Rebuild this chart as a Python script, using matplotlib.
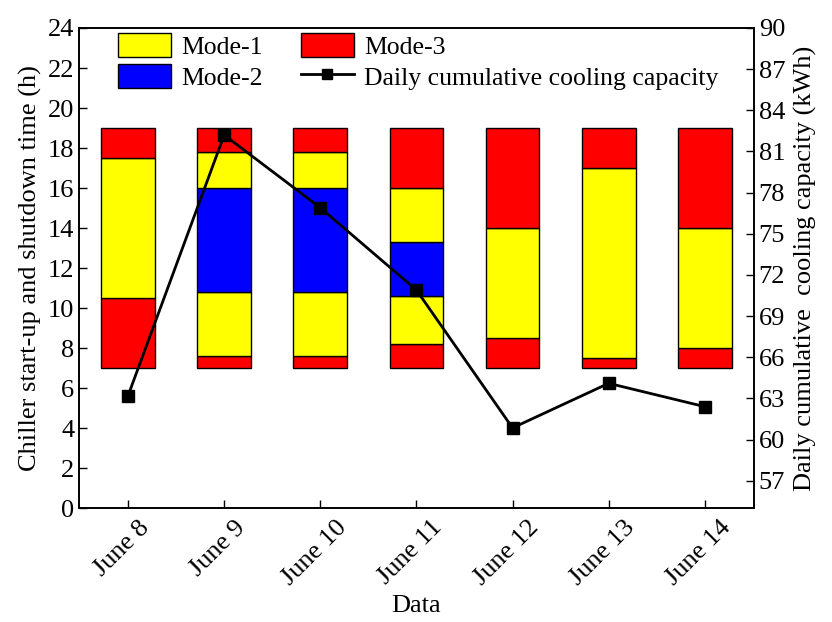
import matplotlib.pyplot as plt
import matplotlib.transforms as mtransforms
from matplotlib.patches import Patch
from matplotlib.lines import Line2D

plt.rcParams['font.family'] = ['Liberation Serif', 'DejaVu Serif']

days = ["June 8", "June 9", "June 10", "June 11", "June 12", "June 13", "June 14"]

# segment boundaries (h) from bottom to top, and the mode running in each segment
seg_bounds = [
    [7, 10.5, 17.5, 19],
    [7, 7.6, 10.8, 16.0, 17.8, 19],
    [7, 7.6, 10.8, 16.0, 17.8, 19],
    [7, 8.2, 10.6, 13.3, 16.0, 19],
    [7, 8.5, 14.0, 19],
    [7, 7.5, 17.0, 19],
    [7, 8.0, 14.0, 19],
]
seg_modes = [
    [3, 1, 3],
    [3, 1, 2, 1, 3],
    [3, 1, 2, 1, 3],
    [3, 1, 2, 1, 3],
    [3, 1, 3],
    [3, 1, 3],
    [3, 1, 3],
]
capacity = [63.2, 82.2, 76.9, 70.9, 60.85, 64.1, 62.4]

mode_colors = {1: "#ffff00", 2: "#0000ff", 3: "#ff0000"}
fs = 19

fig = plt.figure(figsize=(8.32, 6.22), dpi=100)
ax = fig.add_axes([0.095, 0.183, 0.811, 0.772])

for i, (bounds, modes) in enumerate(zip(seg_bounds, seg_modes)):
    for j, m in enumerate(modes):
        ax.bar(i, bounds[j + 1] - bounds[j], bottom=bounds[j], width=0.56,
               color=mode_colors[m], edgecolor="black", linewidth=1, zorder=2)

ax.set_xlim(-0.51, 6.51)
ax.set_ylim(0, 24)
ax.set_yticks(range(0, 25, 2))
ax.set_xticks(range(len(days)))
ax.set_xticklabels(days, rotation=45, ha="center")
ax.tick_params(direction="in", labelsize=fs, length=6, width=1)
ax.tick_params(axis="x", pad=6)
shift = mtransforms.ScaledTranslation(-6 / 100, 0, fig.dpi_scale_trans)
for lab in ax.get_xticklabels():
    lab.set_transform(lab.get_transform() + shift)
ax.set_xlabel("Data", fontsize=fs, labelpad=4)
ax.set_ylabel("Chiller start-up and shutdown time (h)", fontsize=fs, labelpad=4)

ax2 = ax.twinx()
ax2.plot(range(len(days)), capacity, color="black", linewidth=2, marker="s",
         markersize=8, zorder=3)
ax2.set_ylim(55, 90)
ax2.set_yticks(range(57, 91, 3))
ax2.tick_params(direction="in", labelsize=fs, length=6, width=1)
ax2.set_ylabel("Daily cumulative  cooling capacity (kWh)", fontsize=fs, labelpad=6)

for a in (ax, ax2):
    for s in a.spines.values():
        s.set_linewidth(1.2)

handles = [
    Patch(facecolor=mode_colors[1], edgecolor="black", label="Mode-1"),
    Patch(facecolor=mode_colors[2], edgecolor="black", label="Mode-2"),
    Patch(facecolor=mode_colors[3], edgecolor="black", label="Mode-3"),
    Line2D([], [], color="black", linewidth=2, marker="s", markersize=7,
           label="Daily cumulative cooling capacity"),
]
ax2.legend(handles=handles, ncol=2, loc="upper left", bbox_to_anchor=(0.05, 1.0),
           frameon=False, fontsize=fs - 0.5, handlelength=2.05, handleheight=1.05,
           columnspacing=1.5, labelspacing=0.2, handletextpad=0.4,
           borderaxespad=0.0, borderpad=0.2)

fig.savefig("out.png", dpi=100)
